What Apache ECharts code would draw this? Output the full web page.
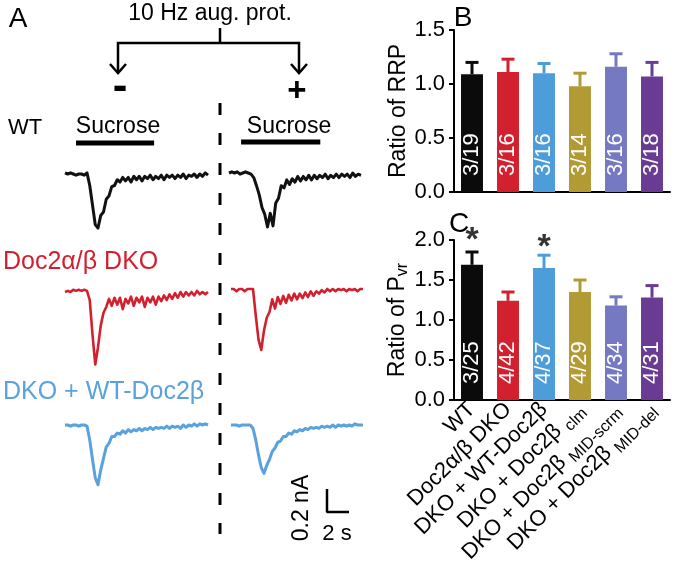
<!DOCTYPE html>
<html><head><meta charset="utf-8">
<script src="https://cdn.jsdelivr.net/npm/echarts@6/dist/echarts.min.js"></script>
<style>html,body{margin:0;padding:0;background:#fff}#c{width:677px;height:583px}</style>
</head><body><div id="c"></div>
<script>
// ---------- Panel B / C data ----------
const categories = ['WT','Doc2α/β DKO','DKO + WT-Doc2β','DKO + Doc2β clm','DKO + Doc2β MID-scrm','DKO + Doc2β MID-del'];
const categoryLabels = ['WT','Doc2α/β DKO','DKO + WT-Doc2β','DKO + Doc2β {s|clm}','DKO + Doc2β {s|MID-scrm}','DKO + Doc2β {s|MID-del}'];
const barColors = ['#0b0b0b','#d3202e','#4d9ddb','#b29a35','#7479c1','#6a3b92'];
const rrpMean = [1.09, 1.11, 1.10, 0.98, 1.16, 1.07];
const rrpUpper = [1.20, 1.23, 1.19, 1.10, 1.28, 1.20];
const rrpN = ['3/19','3/16','3/16','3/14','3/16','3/18'];
const pvrMean = [1.69, 1.24, 1.65, 1.35, 1.18, 1.28];
const pvrUpper = [1.85, 1.35, 1.81, 1.50, 1.29, 1.43];
const pvrN = ['3/25','4/42','4/37','4/29','4/34','4/31'];
const starIdx = [0, 2];
const starY = [1.99, 1.90];
const rrpTicks = [0, 1.5, 0.5];
const pvrTicks = [0, 2.0, 0.5];

// ---------- Panel A traces (time s, current nA) ----------
const tLeft = [0,0.25,0.5,0.75,1,1.25,1.5,1.75,2,2.25,2.5,2.75,3,3.25,3.5,3.75,4,4.25,4.5,4.75,5,5.25,5.5,5.75,6,6.25,6.5,6.75,7,7.25,7.5,7.75,8,8.25,8.5,8.75,9,9.25,9.5,9.75,10,10.25,10.5,10.75,11,11.25,11.5,11.75,12,12.25,12.5,12.75,13];
const tRight = [0,0.25,0.5,0.75,1,1.25,1.5,1.75,2,2.25,2.5,2.75,3,3.25,3.5,3.75,4,4.25,4.5,4.75,5,5.25,5.5,5.75,6,6.25,6.5,6.75,7,7.25,7.5,7.75,8,8.25,8.5,8.75,9,9.25,9.5,9.75,10,10.25,10.5,10.75,11,11.25,11.5,11.75,12];
const wtMinus = [0.01,0,0.01,0,-0.01,0,0,-0.01,0.01,-0.10,-0.27,-0.44,-0.47,-0.36,-0.33,-0.22,-0.19,-0.11,-0.10,-0.05,-0.07,-0.03,-0.06,-0.03,-0.07,-0.02,-0.05,-0.02,-0.06,-0.02,-0.04,-0.01,-0.05,-0.02,-0.04,-0.01,-0.05,-0.01,-0.03,-0.01,-0.04,-0.01,-0.03,0,-0.04,-0.01,-0.02,0,-0.03,0,-0.02,0.01,-0.01];
const wtPlus = [0,0.01,0,0.01,-0.01,0,0.01,0,-0.01,-0.04,-0.11,-0.19,-0.30,-0.36,-0.47,-0.35,-0.46,-0.26,-0.22,-0.11,-0.13,-0.06,-0.10,-0.05,-0.08,-0.03,-0.07,-0.03,-0.06,-0.02,-0.06,-0.02,-0.05,-0.02,-0.04,-0.01,-0.05,-0.02,-0.04,-0.01,-0.04,-0.01,-0.03,-0.01,-0.04,0,-0.03,-0.01,-0.02];
const dkoMinus = [0,0.01,0,0.02,0.01,0.02,0.01,0.02,0.01,-0.07,-0.37,-0.63,-0.48,-0.29,-0.18,-0.13,-0.06,-0.12,-0.05,-0.11,-0.05,-0.15,-0.06,-0.10,-0.04,-0.12,-0.05,-0.09,-0.04,-0.13,-0.05,-0.09,-0.04,-0.11,-0.04,-0.08,-0.03,-0.07,-0.02,-0.06,-0.01,-0.05,0,-0.04,0,-0.03,0,-0.03,0.01,-0.02,0,-0.02,0];
const dkoPlus = [0,0,-0.02,0,0,-0.02,0,0,0,-0.23,-0.44,-0.53,-0.36,-0.25,-0.20,-0.09,-0.17,-0.07,-0.13,-0.06,-0.12,-0.05,-0.10,-0.04,-0.09,-0.04,-0.08,-0.03,-0.07,-0.02,-0.06,-0.02,-0.04,-0.01,-0.03,0,-0.02,0,-0.02,0,-0.01,0,-0.02,0,-0.01,0,-0.02,0,0];
const rescueMinus = [0,0,-0.01,0,0,-0.01,0,0,-0.01,-0.13,-0.30,-0.46,-0.52,-0.39,-0.29,-0.19,-0.16,-0.10,-0.10,-0.07,-0.08,-0.05,-0.07,-0.04,-0.06,-0.04,-0.05,-0.03,-0.05,-0.03,-0.04,-0.02,-0.04,-0.02,-0.03,-0.02,-0.03,-0.01,-0.03,-0.01,-0.02,-0.01,-0.03,0,-0.02,0,-0.01,0.01,-0.01,0.01,0,0.01,0];
const rescuePlus = [0,0,0,-0.01,0,0,0,0,-0.03,-0.13,-0.26,-0.37,-0.42,-0.35,-0.30,-0.23,-0.20,-0.15,-0.14,-0.10,-0.10,-0.07,-0.08,-0.05,-0.06,-0.04,-0.05,-0.03,-0.04,-0.02,-0.03,-0.02,-0.03,-0.01,-0.02,-0.01,-0.02,0,-0.02,0,-0.01,0,-0.01,0,-0.01,0.01,0,0,0];
const sucroseMinus = [1.0, 8.1];
const sucrosePlus = [1.1, 8.3];
const sucroseLevel = 0.27;
const scaleBarTime = 2;     // s
const scaleBarCurrent = 0.2; // nA
const traceColors = ['#111111','#d3202e','#5aa2dd'];

const FONT = "'Liberation Sans', Arial, Helvetica, sans-serif";
const chart = echarts.init(document.getElementById('c'), null, {renderer:'canvas'});

const zip = (t, v) => v.map((y, i) => [t[i], y]);

const traceGrids = [
  {left:65, top:133.75, width:143, height:120.75},
  {left:229, top:132.75, width:132, height:120.75},
  {left:65, top:280.5, width:143, height:92},
  {left:231, top:277.5, width:132, height:92},
  {left:65, top:413.5, width:143, height:92},
  {left:231, top:413.5, width:132, height:92}
];
const traceDefs = [
  {t:tLeft, v:wtMinus, c:0, xmax:13, ymax:0.35, w:3},
  {t:tRight, v:wtPlus, c:0, xmax:12, ymax:0.35, w:3},
  {t:tLeft, v:dkoMinus, c:1, xmax:13, ymax:0.1, w:2.6},
  {t:tRight, v:dkoPlus, c:1, xmax:12, ymax:0.1, w:2.6},
  {t:tLeft, v:rescueMinus, c:2, xmax:13, ymax:0.1, w:3},
  {t:tRight, v:rescuePlus, c:2, xmax:12, ymax:0.1, w:3}
];

const grid = [
  {left:454, top:30, width:216, height:162},
  {left:454, top:240, width:216, height:160},
  ...traceGrids,
  {left:327, top:489, width:22, height:23}
];

const axisCommonY = (ticks, name, gi) => ({
  type:'value', gridIndex:gi, min:ticks[0], max:ticks[1], interval:ticks[2],
  axisLine:{show:true, lineStyle:{color:'#000', width:2}},
  axisTick:{show:true, length:5, lineStyle:{color:'#000', width:2}},
  splitLine:{show:false},
  axisLabel:{color:'#000', fontSize:22, fontFamily:FONT, margin:9, formatter:v=>v.toFixed(1)},
  name:name, nameLocation:'middle', nameRotate:90, nameGap:42,
  nameTextStyle:{color:'#000', fontSize:23, fontFamily:FONT, rich:{s:{fontSize:16, fontFamily:FONT, color:'#000', padding:[10,0,0,0], verticalAlign:'bottom'}}}
});

const xAxis = [
  {type:'category', gridIndex:0, data:categories,
   axisLine:{lineStyle:{color:'#000', width:2}}, axisTick:{alignWithLabel:true, length:5, lineStyle:{color:'#000', width:2}},
   axisLabel:{show:false}},
  {type:'category', gridIndex:1, data:categories,
   axisLine:{lineStyle:{color:'#000', width:2}}, axisTick:{alignWithLabel:true, length:5, lineStyle:{color:'#000', width:2}},
   axisLabel:{interval:0, hideOverlap:false, rotate:45, margin:6, color:'#000', fontSize:22, fontFamily:FONT,
     formatter:(v, i) => categoryLabels[i],
     rich:{s:{fontSize:16, fontFamily:FONT, color:'#000', padding:[14,0,0,0], verticalAlign:'bottom'}}}}
];
const yAxis = [
  axisCommonY(rrpTicks, 'Ratio of RRP', 0),
  axisCommonY(pvrTicks, 'Ratio of P{s|vr}', 1)
];
traceDefs.forEach((d, i) => {
  xAxis.push({type:'value', gridIndex:i+2, min:0, max:d.xmax, show:false});
  yAxis.push({type:'value', gridIndex:i+2, min:-0.7, max:d.ymax, show:false});
});
xAxis.push({type:'value', gridIndex:8, min:0, max:scaleBarTime, show:false});
yAxis.push({type:'value', gridIndex:8, min:0, max:scaleBarCurrent, show:false});

const barLabel = {show:true, position:'insideBottom', rotate:90, align:'left', verticalAlign:'middle', distance:16,
  color:'#fff', fontSize:22, fontFamily:FONT, formatter:p=>p.data.n};

const errSeries = (gi, mean, upper) => ({
  type:'custom', xAxisIndex:gi, yAxisIndex:gi, z:1,
  data: mean.map((m, i) => [i, m, upper[i]]),
  renderItem:(params, api) => {
    const p0 = api.coord([api.value(0), api.value(1)]);
    const p1 = api.coord([api.value(0), api.value(2)]);
    const col = barColors[params.dataIndex];
    return {type:'group', children:[
      {type:'line', shape:{x1:p0[0], y1:p0[1], x2:p1[0], y2:p1[1]}, style:{stroke:col, lineWidth:3}},
      {type:'line', shape:{x1:p1[0]-6.5, y1:p1[1], x2:p1[0]+6.5, y2:p1[1]}, style:{stroke:col, lineWidth:3}}
    ]};
  }
});

const series = [
  {type:'bar', xAxisIndex:0, yAxisIndex:0, barWidth:'61%', z:2,
   data: rrpMean.map((v, i) => ({value:v, n:rrpN[i], itemStyle:{color:barColors[i]}})), label:barLabel},
  errSeries(0, rrpMean, rrpUpper),
  {type:'bar', xAxisIndex:1, yAxisIndex:1, barWidth:'61%', z:2,
   data: pvrMean.map((v, i) => ({value:v, n:pvrN[i], itemStyle:{color:barColors[i]}})), label:barLabel},
  errSeries(1, pvrMean, pvrUpper),
  {type:'scatter', xAxisIndex:1, yAxisIndex:1, symbolSize:0, z:5,
   data: starIdx.map((k, i) => [k, starY[i]]),
   label:{show:true, position:'inside', formatter:'*', color:'#000', fontSize:34, fontWeight:'bold', fontFamily:FONT}}
];
traceDefs.forEach((d, i) => {
  series.push({type:'line', xAxisIndex:i+2, yAxisIndex:i+2, data:zip(d.t, d.v), symbol:'none',
    lineStyle:{color:traceColors[d.c], width:d.w, join:'round'}, z:3});
});
series.push({type:'line', xAxisIndex:2, yAxisIndex:2, symbol:'none',
  data:[[sucroseMinus[0], sucroseLevel],[sucroseMinus[1], sucroseLevel]], lineStyle:{color:'#000', width:5}});
series.push({type:'line', xAxisIndex:3, yAxisIndex:3, symbol:'none',
  data:[[sucrosePlus[0], sucroseLevel],[sucrosePlus[1], sucroseLevel]], lineStyle:{color:'#000', width:5}});
series.push({type:'line', xAxisIndex:8, yAxisIndex:8, symbol:'none', clip:false,
  data:[[0, scaleBarCurrent],[0, 0],[scaleBarTime, 0]], lineStyle:{color:'#000', width:2.5}});

const txt = (x, y, text, font, fill, extra, align) => Object.assign({type:'text', x:x, y:y,
  style:{text:text, font:font, fill:fill || '#000', textAlign:align || 'center', textVerticalAlign:'middle'}}, extra || {});

const graphic = [
  txt(18, 19, 'A', `28px ${FONT}`),
  txt(463, 18, 'B', `28px ${FONT}`),
  txt(459, 224, 'C', `28px ${FONT}`),
  txt(210, 14, '10 Hz aug. prot.', `23px ${FONT}`),
  {type:'polyline', shape:{points:[[118,73],[118,43],[299,43],[299,73]]}, style:{stroke:'#000', lineWidth:2.5, fill:null}},
  {type:'line', shape:{x1:220, y1:28, x2:220, y2:43}, style:{stroke:'#000', lineWidth:2.5}},
  {type:'polyline', shape:{points:[[110,64],[118,73],[126,64]]}, style:{stroke:'#000', lineWidth:2.5, fill:null}},
  {type:'polyline', shape:{points:[[291,64],[299,73],[307,64]]}, style:{stroke:'#000', lineWidth:2.5, fill:null}},
  txt(120, 88, '-', `bold 44px ${FONT}`),
  txt(297, 92, '+', `bold 33px ${FONT}`),
  {type:'line', shape:{x1:220, y1:103, x2:220, y2:534}, style:{stroke:'#000', lineWidth:3, lineDash:[12,18]}},
  txt(8, 128, 'WT', `22px ${FONT}`, '#000', null, 'left'),
  txt(118, 127, 'Sucrose', `23px ${FONT}`),
  txt(289, 127, 'Sucrose', `23px ${FONT}`),
  txt(3, 262, 'Doc2α/β DKO', `25px ${FONT}`, '#d3202e', null, 'left'),
  txt(3, 392, 'DKO + WT-Doc2β', `25px ${FONT}`, '#5aa2dd', null, 'left'),
  txt(302, 508, '0.2 nA', `23px ${FONT}`, '#000', {rotation:Math.PI/2}),
  txt(337, 534, '2 s', `22px ${FONT}`)
];

chart.setOption({animation:false, backgroundColor:'#fff', grid, xAxis, yAxis, series, graphic});
</script></body></html>
